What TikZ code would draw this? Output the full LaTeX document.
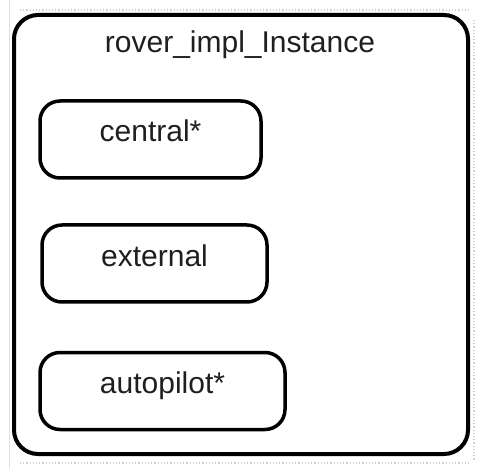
\documentclass[tikz,border=0pt]{standalone}
\usepackage{fontspec}
\setmainfont{Liberation Sans}

\begin{document}
\begin{tikzpicture}[x=1pt, y=-1pt,
    part/.style={draw, line width=3.5pt, rounded corners=20pt, inner sep=0pt,
        minimum height=77pt, text height=20pt, text depth=15pt,
        font=\fontsize{30}{36}\selectfont, text=black!88},
    frame/.style={draw, line width=4pt, rounded corners=24pt, inner sep=0pt}]
    \useasboundingbox (0,0) rectangle (488,468);

    % faint page grid
    \draw[gray!25, line width=1pt] (9,0) -- (9,468);
    \draw[gray!35, line width=1.2pt, dotted] (20,10) -- (470,10);
    \draw[gray!35, line width=1.2pt, dotted] (20,463) -- (470,463);
    \draw[gray!35, line width=1.2pt, dotted] (474,20) -- (474,460);

    \node[frame, minimum width=454pt, minimum height=439pt] (inst) at (241,234.5) {};
    \node[anchor=base, font=\fontsize{30}{36}\selectfont, text=black!88] (title) at (240,53) {rover\_impl\_Instance};

    \node[part, minimum width=221pt] (central) at (150.5,139.5) {central*};
    \node[part, minimum width=225pt] (external) at (154.5,263.5) {external};
    \node[part, minimum width=245pt] (autopilot) at (162.5,391) {autopilot*};
\end{tikzpicture}
\end{document}
